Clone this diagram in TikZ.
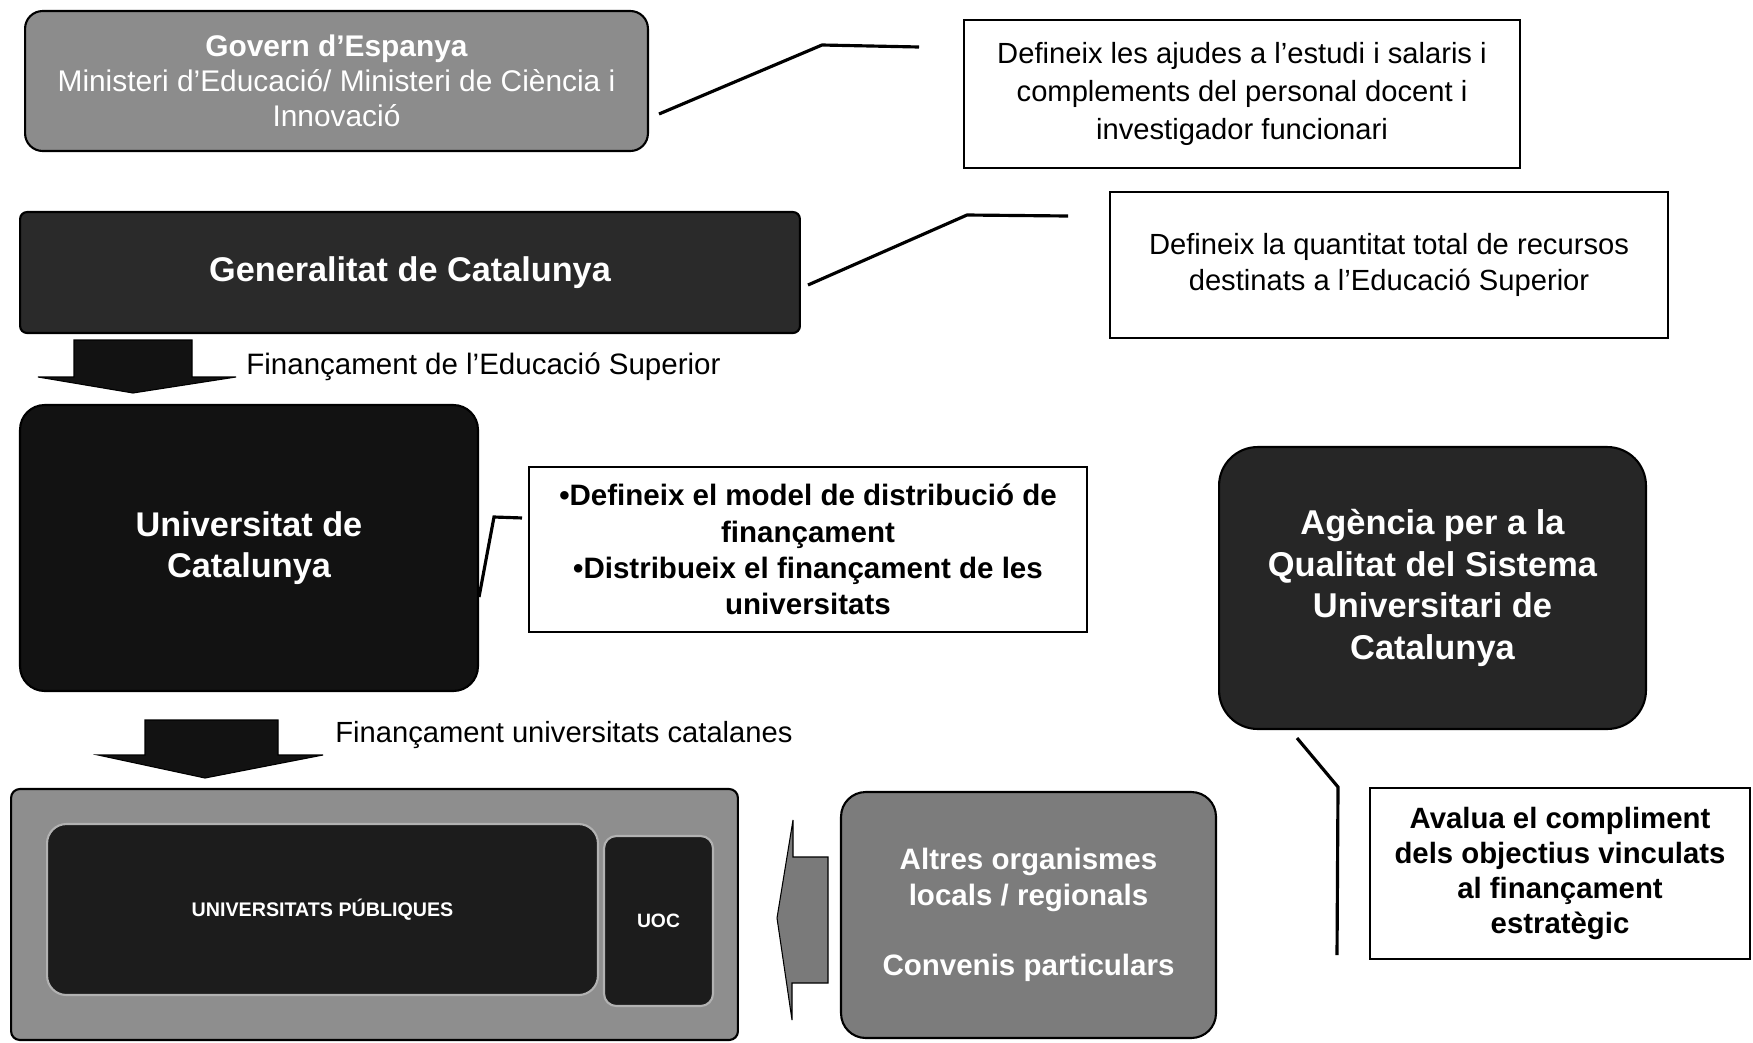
\documentclass[tikz,border=0pt]{standalone}
\usepackage{fontspec}
\setmainfont{Liberation Sans}
\usetikzlibrary{calc}
\definecolor{govgray}{HTML}{8C8C8C}
\definecolor{gendark}{HTML}{2A2A2A}
\definecolor{unidark}{HTML}{121212}
\definecolor{aqudark}{HTML}{262626}
\definecolor{outergray}{HTML}{8E8E8E}
\definecolor{innerdark}{HTML}{1C1C1C}
\definecolor{altgray}{HTML}{7C7C7C}
\definecolor{arrowgray}{HTML}{7A7A7A}
\newcommand\myfs[2]{\fontsize{#1}{#2}\selectfont}
\begin{document}
\begin{tikzpicture}[x=0.02cm,y=-0.02cm,
  shadebox/.style={draw=black, line width=1.2pt, text=white, align=center, inner sep=0pt},
  notebox/.style={draw=black, line width=1.2pt, fill=white, align=center, inner sep=0pt, text=black},
  conn/.style={line width=1.8pt, black, line join=miter},
  blockarrow/.style={draw=black, line width=0.6pt, line join=miter}]
\useasboundingbox[fill=white] (0,0) rectangle (1753,1042);

% top: Govern d'Espanya
\node[shadebox, fill=govgray, rounded corners=10pt, minimum width=12.46cm, minimum height=2.8cm,
      font=\myfs{17}{19.8}] (gov) at (336.5,81)
  {\textbf{Govern d’Espanya}\\Ministeri d’Educació/ Ministeri de Ciència i\\Innovació};
\node[notebox, minimum width=11.12cm, minimum height=2.96cm, font=\myfs{16.6}{21.5}] (n1) at (1242,94)
  {Defineix les ajudes a l’estudi i salaris i\\complements del personal docent i\\investigador funcionari};
\coordinate (c1a) at (822,45);
\coordinate (c1b) at (919,47);
\draw[conn] ($(gov.east)+(10,33)$) -- (c1a) -- (c1b);

% Generalitat
\node[shadebox, fill=gendark, rounded corners=4pt, minimum width=15.6cm, minimum height=2.42cm,
      font=\myfs{19.5}{23}\bfseries] (gen) at (410,272.5) {Generalitat de Catalunya};
\node[notebox, minimum width=11.16cm, minimum height=2.92cm, font=\myfs{16.6}{21}] (n2) at (1389,265)
  {Defineix la quantitat total de recursos\\destinats a l’Educació Superior};
\coordinate (c2a) at (967,215);
\coordinate (c2b) at (1068,216);
\draw[conn] ($(gen.east)+(7,12.5)$) -- (c2a) -- (c2b);

% arrow 1
\draw[blockarrow, fill=unidark] (74,340) -- (192,340) -- (192,377) -- (236,377) -- (133,393) -- (38,377) -- (74,377) -- cycle;
\node[anchor=west, inner sep=0pt, font=\myfs{16.8}{20}] (l1) at (246,367) {Finançament de l’Educació Superior};

% Universitat de Catalunya
\node[shadebox, fill=unidark, rounded corners=14pt, minimum width=9.16cm, minimum height=5.72cm,
      font=\myfs{19.5}{23.4}\bfseries] (uni) at (249,548) {Universitat de\\Catalunya};
\node[notebox, minimum width=11.16cm, minimum height=3.3cm, font=\myfs{16.8}{20.6}\bfseries] (n3) at (808,549.5)
  {•Defineix el model de distribució de\\finançament\\•Distribueix el finançament de les\\universitats};
\coordinate (c3a) at (494,517);
\draw[conn] ($(uni.east)+(0,49)$) -- (c3a) -- ($(n3.north west)+(-6,52)$);

% AQU
\node[shadebox, fill=aqudark, rounded corners=22pt, minimum width=8.54cm, minimum height=5.64cm,
      font=\myfs{19.6}{23.6}\bfseries] (aqu) at (1432.5,588)
  {Agència per a la\\Qualitat del Sistema\\Universitari de\\Catalunya};
\node[notebox, minimum width=7.6cm, minimum height=3.42cm, font=\myfs{16.7}{20}\bfseries] (n4) at (1560,873.5)
  {Avalua el compliment\\dels objectius vinculats\\al finançament\\estratègic};
\coordinate (c4a) at (1338,787);
\coordinate (c4b) at (1337,955);
\draw[conn] ($(aqu.south)+(-135.5,8)$) -- (c4a) -- (c4b);

% arrow 2
\draw[blockarrow, fill=unidark] (145,720) -- (278,720) -- (278,755) -- (323,755) -- (205,778) -- (98,755) -- (145,755) -- cycle;
\node[anchor=west, inner sep=0pt, font=\myfs{16.6}{20}] (l2) at (335,735) {Finançament universitats catalanes};

% universities block
\node[shadebox, fill=outergray, rounded corners=5pt, minimum width=14.54cm, minimum height=5.02cm] (outer) at (374.5,914.5) {};
\node[shadebox, draw=white!70!black, fill=innerdark, rounded corners=11pt, minimum width=11.02cm, minimum height=3.42cm,
      font=\myfs{11.2}{13}\bfseries] (pub) at (322.5,909.5) {UNIVERSITATS PÚBLIQUES};
\node[shadebox, draw=white!70!black, fill=innerdark, rounded corners=7pt, minimum width=2.18cm, minimum height=3.4cm,
      font=\myfs{11}{13}\bfseries] (uoc) at (658.5,921) {UOC};

% left arrow
\draw[blockarrow, fill=arrowgray] (793,820) -- (777,918) -- (792,1020) -- (792,983) -- (828,983) -- (828,857) -- (793,857) -- cycle;

% Altres
\node[shadebox, fill=altgray, rounded corners=14pt, minimum width=7.5cm, minimum height=4.92cm,
      font=\myfs{16.8}{20.3}\bfseries] (alt) at (1028.5,915)
  {Altres organismes\\locals / regionals\\[20pt]Convenis particulars};
\end{tikzpicture}
\end{document}
